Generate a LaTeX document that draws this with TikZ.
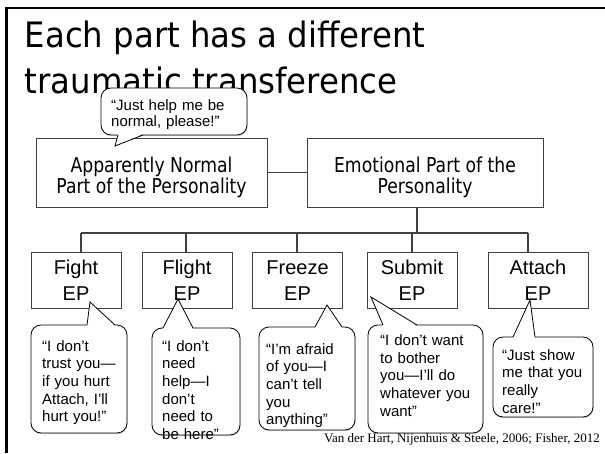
\documentclass[tikz,border=0pt]{standalone}
\usepackage{fontspec}
\usetikzlibrary{calc,shadows}
\newfontfamily\titlefont[FakeStretch=0.925]{DejaVu Sans}
\newfontfamily\slidefont[FakeStretch=0.84]{DejaVu Sans}
\newfontfamily\boxfont{Liberation Sans}
\newfontfamily\citefont{Liberation Serif}
\definecolor{edge}{HTML}{404040}
\tikzset{
  part/.style={draw=edge,line width=0.9pt,inner sep=0pt,align=center,
    font=\slidefont\fontsize{20.5}{21}\selectfont},
  ep/.style={draw=edge,line width=0.9pt,inner sep=0pt,align=center,
    minimum width=90pt,minimum height=56pt,font=\boxfont\fontsize{20}{26}\selectfont},
  bubble/.style={draw,line width=0.8pt,fill=white,rounded corners=10pt,
    drop shadow={shadow xshift=0.5pt,shadow yshift=-1.2pt,opacity=0.35}},
  says/.style={inner sep=0pt,anchor=base west,align=left,text width=120pt,
    font=\boxfont\fontsize{15}{17.7}\selectfont},
  link/.style={draw=edge,line width=1.1pt}
}
% two lines of a box label, the first one raised by a strut
\newcommand{\twolines}[3]{\rule{0pt}{#1}#2\\#3\strut}
% tail of a speech bubble: base point, tip, base point, shift into the bubble
\newcommand{\saytail}[4]{%
  \fill[white] ($#1+(0,#4)$) -- #2 -- ($#3+(0,#4)$) -- cycle;
  \draw[line width=0.8pt] #1 -- #2 -- #3;}
\begin{document}
\begin{tikzpicture}[x=1pt,y=-1pt]
\useasboundingbox (0,0) rectangle (605,453);
\draw[line width=2.6pt] (6.5,453) -- (6.5,8) -- (605,8);
\node[anchor=north west,inner sep=0pt,align=left,
  font=\titlefont\fontsize{35}{46}\selectfont] (title) at (24.5,20.4)
  {Each part has a different\\traumatic transference};

% the two parts
\node[part,minimum width=231pt,minimum height=69pt] (anp) at (151.5,172.5)
  {\twolines{26.3pt}{Apparently Normal}{Part of the Personality}};
\node[part,minimum width=236pt,minimum height=69pt] (emo) at (425,172.5)
  {\twolines{26.3pt}{Emotional Part of the}{Personality}};
\draw[link] (anp.east) -- (emo.west);

% emotional parts
\node[ep] (fight) at (76,280) {\twolines{21.8pt}{Fight}{EP}};
\node[ep] (flight) at (187,280) {\twolines{21.8pt}{Flight}{EP}};
\node[ep] (freeze) at (297.5,280) {\twolines{21.8pt}{Freeze}{EP}};
\node[ep] (submit) at (412,280) {\twolines{21.8pt}{Submit}{EP}};
\node[ep,minimum width=100pt] (attach) at (538,280) {\twolines{21.8pt}{Attach}{EP}};

\coordinate (bus) at (417,233);
\draw[link] (emo.south -| bus) -- (bus);
\draw[link] (81,233) -- (528,233);
\foreach \x/\part in {81/fight,186/flight,297/freeze,412/submit,528/attach}
  \draw[link] (\x,233) -- (\x,233 |- \part.north);

% speech bubbles
\node[bubble,minimum width=146pt,minimum height=47pt] (qanp) at (174,111.5) {};
\saytail{(118,135)}{(115,146)}{(143,135)}{-1.2}
\node[says,font=\boxfont\fontsize{15}{16}\selectfont] (tanp) at (111,110)
  {“Just help me be\\normal, please!”};

\node[bubble,minimum width=96pt,minimum height=108pt] (qfight) at (79,379) {};
\saytail{(87,325)}{(90,302)}{(115,325)}{1.2}
\node[says] (tfight) at (42,351)
  {“I don’t\\trust you—\\if you hurt\\Attach, I’ll\\hurt you!”};

\node[bubble,minimum width=88pt,minimum height=107pt] (qflight) at (196,381.5) {};
\saytail{(163,328)}{(178,299)}{(193,328)}{1.2}
\node[says] (tflight) at (162,351)
  {“I don’t\\need\\help—I\\don’t\\need to\\be here”};

\node[bubble,minimum width=96pt,minimum height=103pt] (qfreeze) at (307,378.5) {};
\saytail{(315,327)}{(327,305)}{(342,327)}{1.2}
\node[says] (tfreeze) at (266,354)
  {“I’m afraid\\of you—I\\can’t tell\\you\\anything”};

\node[bubble,minimum width=115pt,minimum height=108pt] (qsubmit) at (425.5,379) {};
\saytail{(383,325)}{(371,297)}{(417,325)}{1.2}
\node[says] (tsubmit) at (380,345.5)
  {“I don’t want\\to bother\\you—I’ll do\\whatever you\\want”};

\node[bubble,minimum width=100pt,minimum height=80pt] (qattach) at (543,377) {};
\saytail{(513,337)}{(530,300)}{(535,337)}{1.2}
\node[says] (tattach) at (502,360)
  {“Just show\\me that you\\really\\care!”};

\node[anchor=base east,inner sep=0pt,font=\citefont\fontsize{13}{15}\selectfont]
  (cite) at (600,442) {Van der Hart, Nijenhuis \& Steele, 2006; Fisher, 2012};
\end{tikzpicture}
\end{document}
